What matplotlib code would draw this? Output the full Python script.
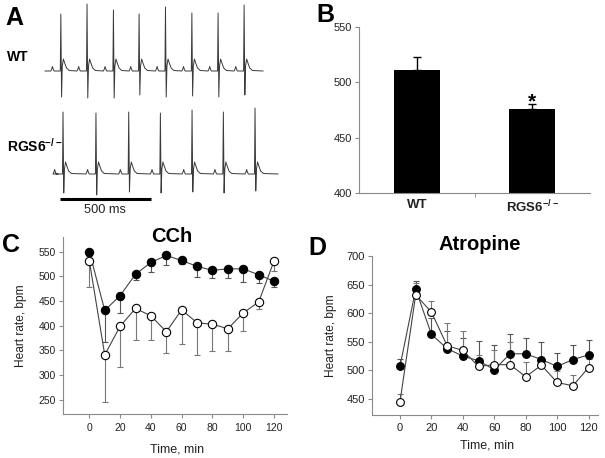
import numpy as np
import matplotlib
matplotlib.use('Agg')
import matplotlib.pyplot as plt

plt.rcParams['font.family'] = ['Liberation Sans', 'DejaVu Sans']
plt.rcParams['mathtext.fontset'] = 'custom'
plt.rcParams['mathtext.rm'] = 'Liberation Sans'
plt.rcParams['mathtext.bf'] = 'Liberation Sans:bold'

# ---- panel A: ECG beats (R times in ms, R height / S depth in trace units)
wt_beats = [88, 232, 377, 518, 663, 808, 952, 1095]
wt_r = [57, 67, 61, 57, 64, 58, 58, 66]
wt_s = [26, 27, 27, 24, 26, 25, 26, 24]
wt_span = (0, 1198)

ko_beats = [100, 281, 461, 635, 809, 981, 1155]
ko_r = [62, 61, 62, 61, 64, 62, 66]
ko_s = [19, 21, 18, 19, 18, 19, 17]
ko_span = (71, 1280)

# one beat: (ms from R, amplitude); R and S filled per beat
p_wave = [(-56, 0), (-51, 2), (-47, 4.5), (-43, 2), (-38, 0)]
qrs_t = [(-4, 0), (-1, 'R'), (3, 'S'), (7, 5), (13, 12), (20, 8), (30, 3), (45, 0.5)]

# ---- panel B
groups = ['WT', 'RGS6$^{\\mathbf{-/-}}$']
hr_mean = [511, 476]
hr_sem = [12, 4.5]

# ---- panel C: CCh
t_min = [0, 10, 20, 30, 40, 50, 60, 70, 80, 90, 100, 110, 120]
cch_wt = [550, 431, 461, 504, 528, 542, 532, 520, 512, 515, 515, 503, 490]
cch_wt_sem = [10, 63, 36, 11, 20, 20, 8, 21, 16, 19, 26, 17, 12]
cch_ko = [531, 341, 399, 435, 420, 388, 432, 406, 403, 394, 426, 448, 531]
cch_ko_sem = [52, 96, 82, 64, 49, 43, 69, 65, 54, 45, 36, 15, 20]

# ---- panel D: Atropine
atr_wt = [507, 642, 563, 538, 525, 517, 501, 529, 529, 519, 507, 519, 527]
atr_wt_sem = [13, 15, 28, 31, 31, 34, 44, 35, 27, 31, 24, 26, 27]
atr_ko = [445, 632, 602, 543, 535, 507, 510, 510, 489, 509, 479, 473, 505]
atr_ko_sem = [13, 20, 20, 39, 34, 20, 26, 40, 25, 15, 20, 19, 15]


def build_trace(beats, rs, ss, span):
    t, y = [span[0]], [0]
    for b, r, s in zip(beats, rs, ss):
        for dt, v in p_wave:
            t.append(b + dt); y.append(v)
        for dt, v in qrs_t:
            t.append(b + dt)
            y.append(r if v == 'R' else (-s if v == 'S' else v))
    t.append(span[1]); y.append(0)
    return np.array(t), np.array(y)


W, H = 605, 458
fig = plt.figure(figsize=(W / 100, H / 100), dpi=100)


def px_axes(left, top, right, bottom):
    return fig.add_axes([left / W, 1 - bottom / H, (right - left) / W, (bottom - top) / H])


spine_c = '#8a8a8a'
txt_c = '#222222'

# ---------------- A
axA = px_axes(0, 0, 302.5, 215.3)
ms_per_px = 500 / 91
axA.set_xlim(-45 * ms_per_px, (302.5 - 45) * ms_per_px)
axA.set_ylim(-215.3, 0)
axA.axis('off')
t, y = build_trace(wt_beats, wt_r, wt_s, wt_span)
axA.plot(t, y - 71, color='#3a3a3a', lw=0.7)
t, y = build_trace(ko_beats, ko_r, ko_s, ko_span)
axA.plot(t, y - 174, color='#3a3a3a', lw=0.7)
axA.plot([82, 582], [-199, -199], color='black', lw=2.2, solid_capstyle='butt')
axA.text(332, -204, '500 ms', ha='center', va='top', fontsize=9.2, color=txt_c)
fig.text(7 / W, 1 - 57 / H, 'WT', fontsize=10, fontweight='bold', va='center')
fig.text(7 / W, 1 - 146 / H, 'RGS6$^{\\mathbf{-/-}}$', fontsize=10, fontweight='bold', va='center')

# ---------------- B
axB = px_axes(359, 27, 590, 193)
x = np.arange(len(groups))
axB.bar(x, hr_mean, width=0.4, color='black', zorder=2)
axB.errorbar(x, hr_mean, yerr=[np.zeros(2), hr_sem], fmt='none', ecolor='black',
             elinewidth=1, capsize=3, capthick=1, zorder=1)
axB.text(1, 482, '*', ha='center', va='center', fontsize=15, fontweight='bold')
axB.set_ylim(400, 550)
axB.set_xlim(-0.5, 1.5)
axB.set_yticks([400, 450, 500, 550])
axB.set_xticks(x)
axB.set_xticklabels(groups, fontweight='bold', fontsize=9.5)
axB.set_xticks([0.5], minor=True)
axB.tick_params(axis='x', which='major', length=0, pad=4)
axB.tick_params(axis='x', which='minor', length=3, color=spine_c)

# ---------------- C, D
def timecourse(ax, wt, wt_sem, ko, ko_sem, lower, ms):
    z = np.zeros(len(t_min))
    e_wt = [wt_sem, z] if lower else [z, wt_sem]
    e_ko = [ko_sem, z] if lower else [z, ko_sem]
    ax.errorbar(t_min, wt, yerr=e_wt, fmt='none', ecolor='#555555', elinewidth=0.8,
                capsize=2, capthick=0.8, zorder=1)
    ax.errorbar(t_min, ko, yerr=e_ko, fmt='none', ecolor='#777777', elinewidth=0.8,
                capsize=2, capthick=0.8, zorder=1)
    ax.plot(t_min, wt, '-', color='#444444', lw=0.8, zorder=2)
    ax.plot(t_min, wt, 'o', ms=ms, mfc='black', mec='black', mew=0.8, zorder=3)
    ax.plot(t_min, ko, '-', color='#444444', lw=0.8, zorder=4)
    ax.plot(t_min, ko, 'o', ms=ms, mfc='white', mec='black', mew=0.8, zorder=5)
    ax.set_xticks([0, 20, 40, 60, 80, 100, 120])
    ax.set_xlabel('Time, min', fontsize=9, color=txt_c)
    ax.set_ylabel('Heart rate, bpm', fontsize=8.6, color=txt_c)


axC = px_axes(62.7, 236.7, 287, 414.3)
timecourse(axC, cch_wt, cch_wt_sem, cch_ko, cch_ko_sem, True, 6)
axC.set_xlim(-17.3, 128.4)
axC.set_ylim(221, 580)
axC.set_yticks([250, 300, 350, 400, 450, 500, 550])
axC.xaxis.set_label_coords(0.508, -0.163)
axC.yaxis.set_label_coords(-0.16, 0.5)

axD = px_axes(371.7, 256, 598, 415)
timecourse(axD, atr_wt, atr_wt_sem, atr_ko, atr_ko_sem, False, 5.6)
axD.set_xlim(-18, 126)
axD.set_ylim(422, 700)
axD.set_yticks([450, 500, 550, 600, 650, 700])
axD.xaxis.set_label_coords(0.511, -0.157)
axD.yaxis.set_label_coords(-0.155, 0.5)

for ax, fs in [(axB, 8), (axC, 7.5), (axD, 8)]:
    for s in ['top', 'right']:
        ax.spines[s].set_visible(False)
    for s in ['left', 'bottom']:
        ax.spines[s].set_color(spine_c)
        ax.spines[s].set_linewidth(0.8)
    ax.tick_params(axis='y', direction='out', length=3, width=0.8, color=spine_c,
                   labelsize=fs, labelcolor=txt_c, pad=2)
    ax.tick_params(axis='x', which='major', direction='out', width=0.8, color=spine_c,
                   labelcolor=txt_c)
axC.tick_params(axis='x', length=3, labelsize=7.5, pad=3)
axD.tick_params(axis='x', length=3, labelsize=8, pad=3)

fig.text(171.7 / W, 1 - 236.7 / H, 'CCh', fontsize=14.5, fontweight='bold', ha='center', va='center')
fig.text(480 / W, 1 - 245 / H, 'Atropine', fontsize=14.5, fontweight='bold', ha='center', va='center')

for lab, (px, py) in {'A': (14, 18), 'B': (325, 15), 'C': (11, 245), 'D': (317, 248)}.items():
    fig.text(px / W, 1 - py / H, lab, fontsize=18, fontweight='bold', ha='center', va='center')

fig.savefig('out.png', dpi=100)
